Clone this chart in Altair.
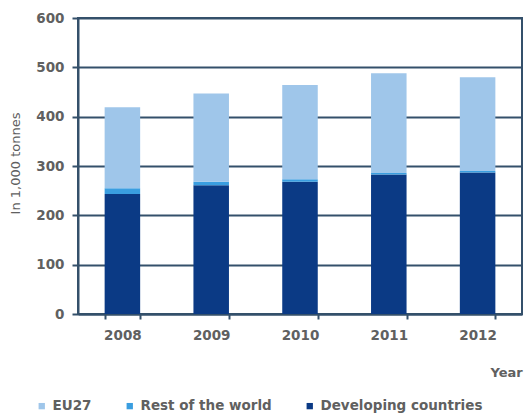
import altair as alt
import pandas as pd

years = ["2008", "2009", "2010", "2011", "2012"]
developing = [243, 261, 268, 283, 287]
rest_world = [12, 7, 5, 3, 3]
eu27 = [164, 179, 191, 202, 190]

series = ["EU27", "Rest of the world", "Developing countries"]
colors = ["#9fc6ea", "#3a9ee0", "#0b3a85"]
stack_order = {"Developing countries": 0, "Rest of the world": 1, "EU27": 2}

rows = []
for i, y in enumerate(years):
    for name, vals in (("Developing countries", developing), ("Rest of the world", rest_world), ("EU27", eu27)):
        rows.append({"Year": y, "Series": name, "Value": vals[i], "order": stack_order[name]})
df = pd.DataFrame(rows)

font = "DejaVu Sans"
grid = "#34506b"
txt = "#606060"

chart = alt.Chart(df).mark_bar().encode(
    x=alt.X("Year:N", sort=years,
            scale=alt.Scale(paddingInner=0.6, paddingOuter=0.3),
            axis=alt.Axis(title="Year", labelAngle=0, tickBand="extent", tickSize=5,
                          labelPadding=9, domainColor=grid, domainWidth=2, tickColor=grid, tickWidth=2,
                          titleAnchor="start", titleAlign="left", titleX=412, titleY=58,
                          titleBaseline="middle")),
    y=alt.Y("Value:Q", stack="zero",
            scale=alt.Scale(domain=[0, 600]),
            axis=alt.Axis(title="In 1,000 tonnes", values=[0, 100, 200, 300, 400, 500, 600],
                          tickSize=6, labelPadding=8, domainColor=grid, domainWidth=2,
                          tickColor=grid, tickWidth=2, gridColor=grid, gridWidth=2,
                          titleX=-63, titleY=145, titleAngle=-90, titleAlign="center",
                          titleBaseline="middle", titleFontWeight="normal", titleFontSize=13)),
    color=alt.Color("Series:N", sort=series,
                    scale=alt.Scale(domain=series, range=colors),
                    legend=alt.Legend(title=None, orient="none", legendX=-43, legendY=381,
                                      direction="horizontal", symbolType="square", symbolSize=40,
                                      symbolStrokeWidth=0, columnPadding=31, labelOffset=4,
                                      labelLimit=400)),
    order=alt.Order("order:Q", sort="ascending"),
).properties(
    width=444, height=296,
    autosize=alt.AutoSizeParams(type="none"),
    padding={"left": 78, "top": 18, "right": 7, "bottom": 106},
).configure_view(
    stroke=grid, strokeWidth=2
).configure_axis(
    labelFont=font, titleFont=font, labelFontSize=13.5, labelFontWeight="bold",
    labelColor=txt, titleColor=txt, titleFontSize=13, titleFontWeight="bold",
).configure_legend(
    labelFont=font, labelFontSize=13.5, labelFontWeight="bold", labelColor=txt
)

chart.save("out.html", embed_options={"renderer": "svg", "actions": False})
